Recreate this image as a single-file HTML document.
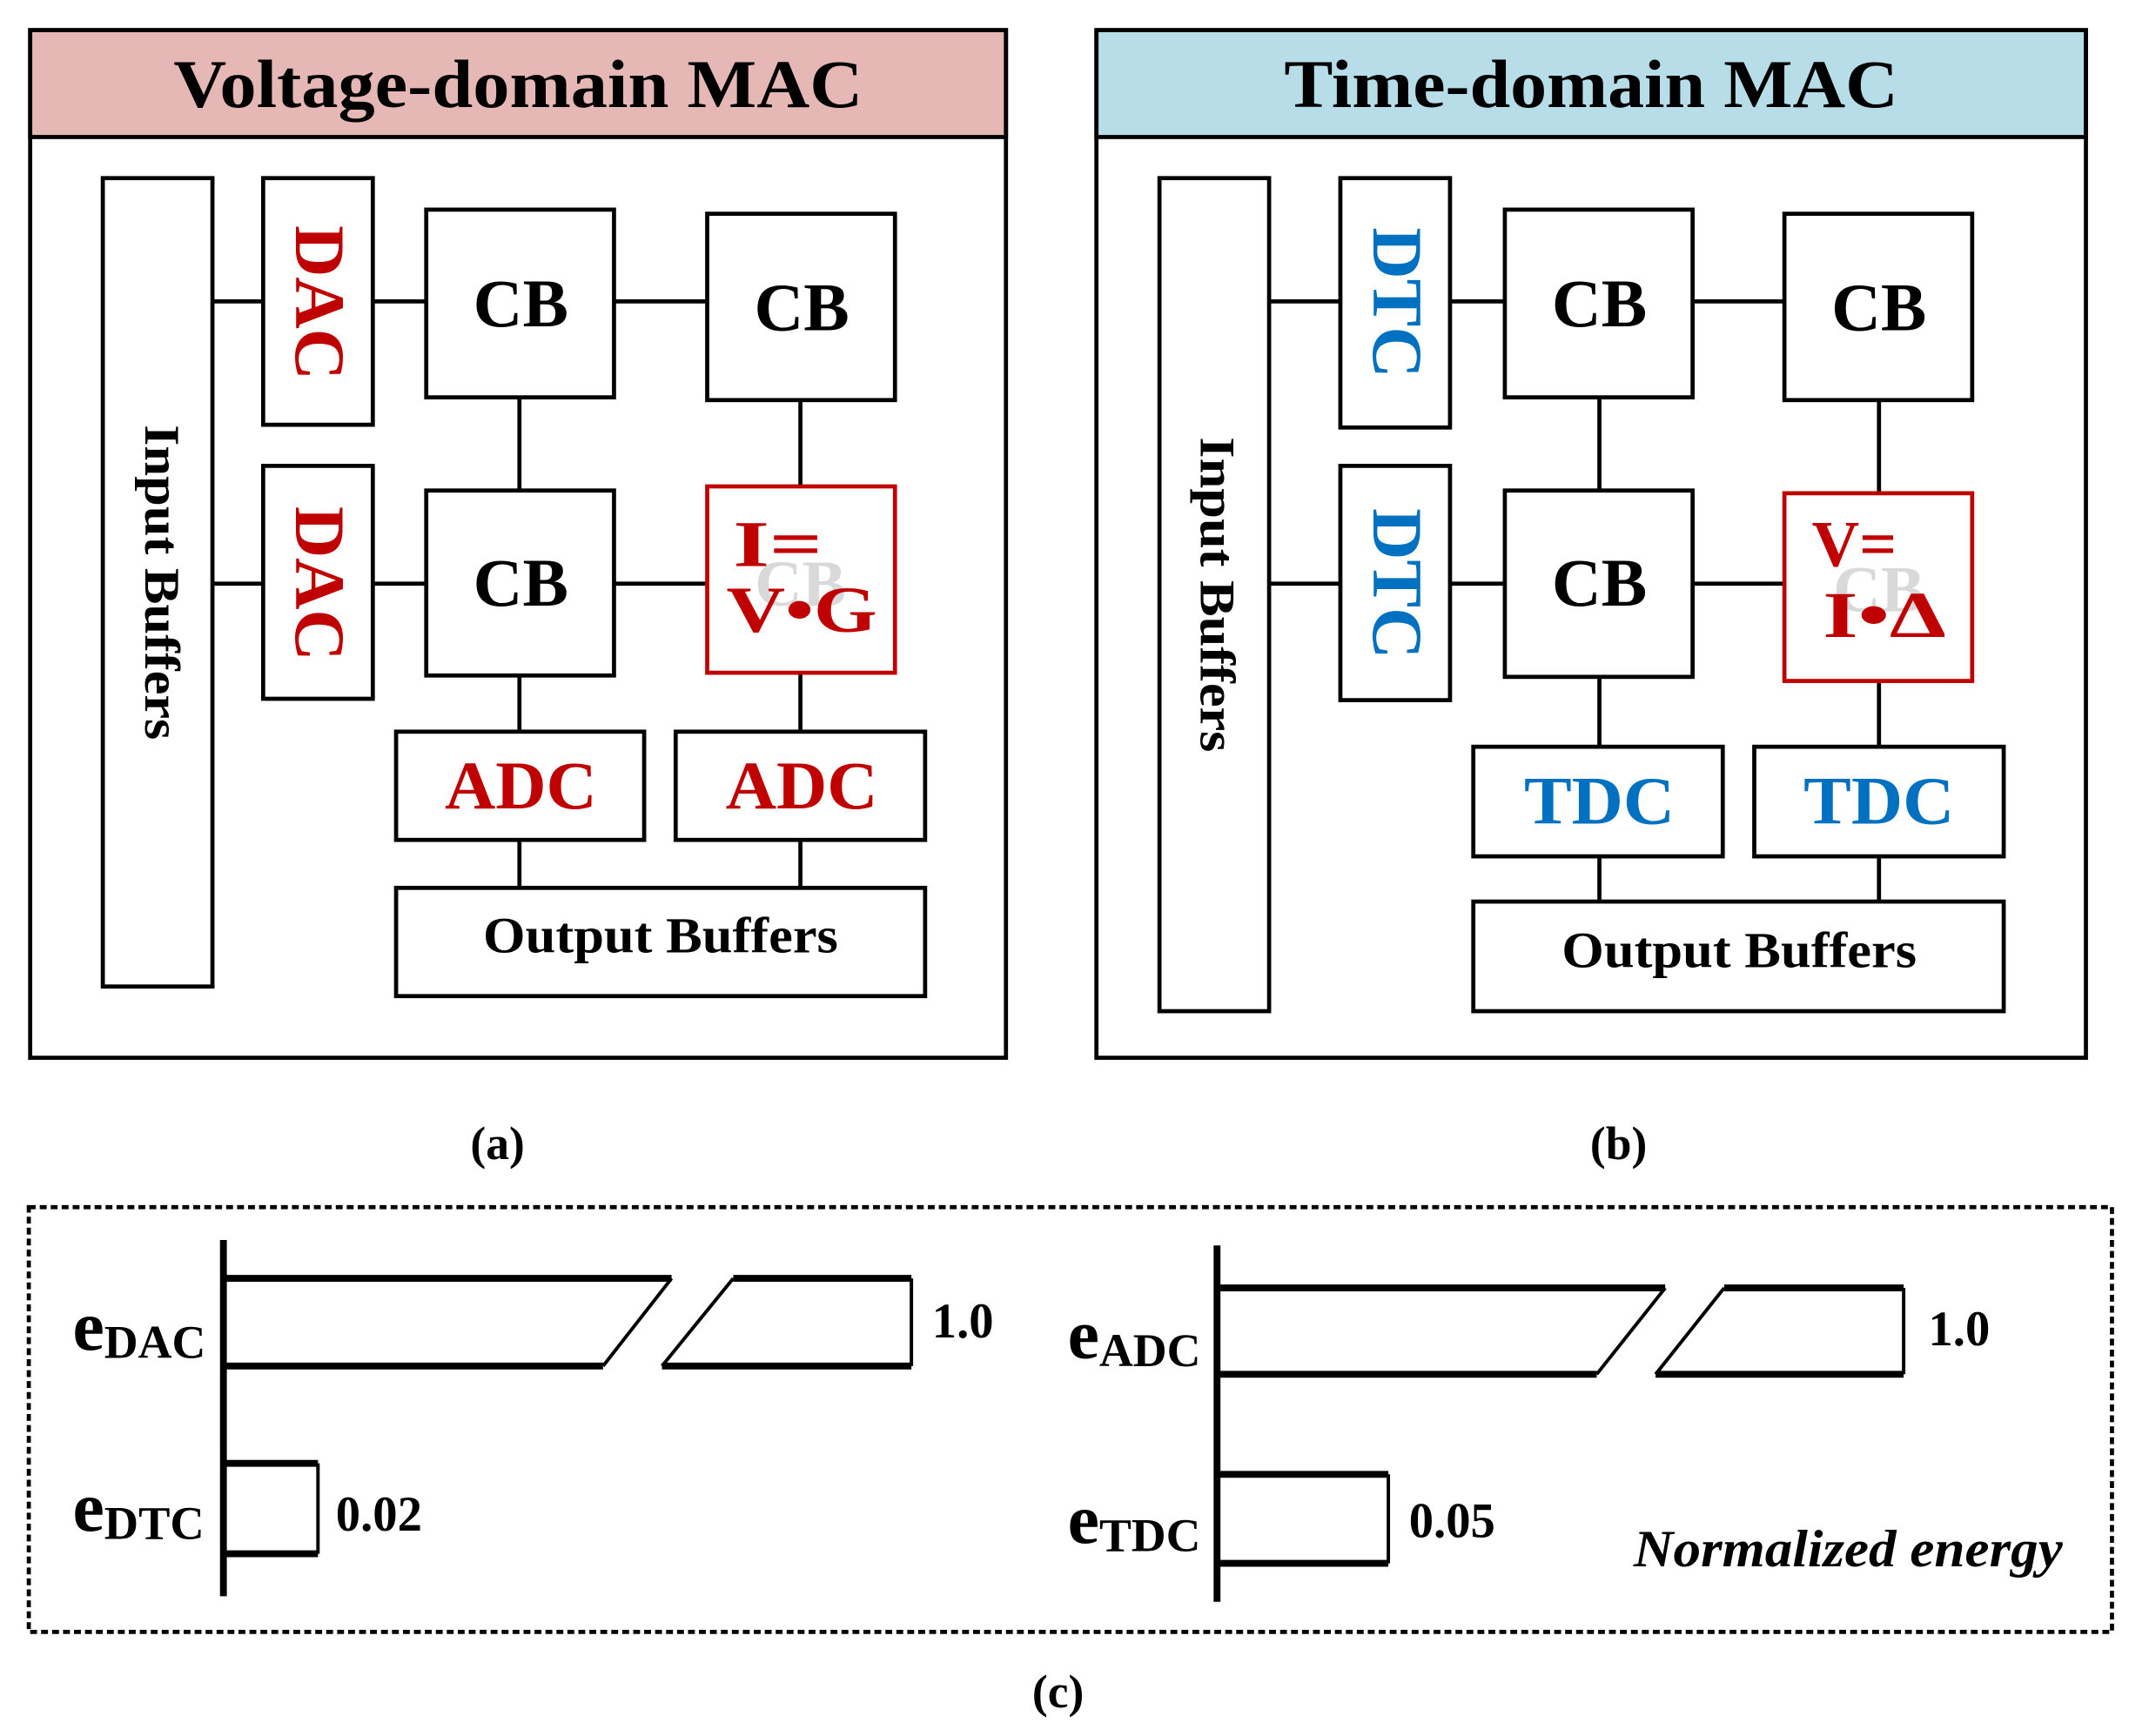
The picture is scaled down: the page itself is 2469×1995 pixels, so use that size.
<!DOCTYPE html>
<html><head><meta charset="utf-8"><style>html,body{margin:0;padding:0;background:#fff}svg{display:block}</style></head>
<body>
<svg xmlns="http://www.w3.org/2000/svg" width="2469" height="1995" viewBox="0 0 1568 1267" font-family="Liberation Serif, serif" font-weight="bold">
<rect width="1568" height="1267" fill="#fff"/>
<g stroke="#000" stroke-width="3" fill="none">
<rect x="22" y="22" width="712" height="78" fill="#e6b8b5"/>
<rect x="22" y="22" width="712" height="750"/>
<rect x="75" y="130" width="80" height="590"/>
<rect x="192" y="130" width="80" height="180"/>
<rect x="192" y="340" width="80" height="170"/>
<rect x="311" y="153" width="137" height="137"/>
<rect x="516" y="156" width="137" height="136"/>
<rect x="311" y="358" width="137" height="135"/>
<rect x="289" y="534" width="181" height="79"/>
<rect x="493" y="534" width="182" height="79"/>
<rect x="289" y="648" width="386" height="79"/>
<path d="M155 220H192M272 220H311M448 220H516M155 426H192M272 426H311M448 426H516M379 290V358M379 493V534M379 613V648M584 292V355M584 491V534M584 613V648"/>
<rect x="800" y="22" width="722" height="78" fill="#b7dde8"/>
<rect x="800" y="22" width="722" height="750"/>
<rect x="846" y="130" width="80" height="608"/>
<rect x="978" y="130" width="80" height="182"/>
<rect x="978" y="340" width="80" height="171"/>
<rect x="1098" y="153" width="137" height="137"/>
<rect x="1302" y="156" width="137" height="136"/>
<rect x="1098" y="358" width="137" height="136"/>
<rect x="1075" y="545" width="182" height="80"/>
<rect x="1280" y="545" width="182" height="80"/>
<rect x="1075" y="658" width="387" height="80"/>
<path d="M926 220H978M1058 220H1098M1235 220H1302M926 426H978M1058 426H1098M1235 426H1302M1167 290V358M1167 494V545M1167 625V658M1371 292V360M1371 497V545M1371 625V658"/>
</g>
<rect x="516" y="355" width="137" height="136" fill="#fff" stroke="#c00000" stroke-width="3"/>
<rect x="1302" y="360" width="137" height="137" fill="#fff" stroke="#c00000" stroke-width="3"/>
<g text-anchor="middle">
<text x="378" y="78" font-size="50" textLength="503" lengthAdjust="spacingAndGlyphs">Voltage-domain MAC</text>
<text x="1161" y="78" font-size="50" textLength="448" lengthAdjust="spacingAndGlyphs">Time-domain MAC</text>
<text x="380" y="238" font-size="50">CB</text>
<text x="585" y="241" font-size="50">CB</text>
<text x="380" y="442" font-size="50">CB</text>
<text x="1167" y="238" font-size="50">CB</text>
<text x="1371" y="241" font-size="50">CB</text>
<text x="1167" y="442" font-size="50">CB</text>
<text x="584" y="442" font-size="48" fill="#d9d9d9">CB</text>
<text x="1371" y="446" font-size="48" fill="#d9d9d9">CB</text>
<text x="380" y="590" font-size="50" fill="#c00000" textLength="111" lengthAdjust="spacingAndGlyphs">ADC</text>
<text x="585" y="590" font-size="50" fill="#c00000" textLength="111" lengthAdjust="spacingAndGlyphs">ADC</text>
<text x="1167" y="601" font-size="50" fill="#0070c0" textLength="110" lengthAdjust="spacingAndGlyphs">TDC</text>
<text x="1371" y="601" font-size="50" fill="#0070c0" textLength="110" lengthAdjust="spacingAndGlyphs">TDC</text>
<text x="482" y="695" font-size="37" textLength="259" lengthAdjust="spacingAndGlyphs">Output Buffers</text>
<text x="1269" y="706" font-size="37" textLength="259" lengthAdjust="spacingAndGlyphs">Output Buffers</text>
<text transform="translate(106,425) rotate(90)" font-size="36" textLength="230" lengthAdjust="spacingAndGlyphs">Input Buffers</text>
<text transform="translate(876,434) rotate(90)" font-size="36" textLength="230" lengthAdjust="spacingAndGlyphs">Input Buffers</text>
<text transform="translate(216,221) rotate(90)" font-size="52" fill="#c00000" textLength="113" lengthAdjust="spacingAndGlyphs">DAC</text>
<text transform="translate(216,426) rotate(90)" font-size="52" fill="#c00000" textLength="113" lengthAdjust="spacingAndGlyphs">DAC</text>
<text transform="translate(1002,221) rotate(90)" font-size="52" fill="#0070c0" textLength="110" lengthAdjust="spacingAndGlyphs">DTC</text>
<text transform="translate(1002,426) rotate(90)" font-size="52" fill="#0070c0" textLength="110" lengthAdjust="spacingAndGlyphs">DTC</text>
<text x="363" y="846" font-size="34">(a)</text>
<text x="1181" y="846" font-size="34">(b)</text>
<text x="772" y="1246" font-size="34">(c)</text>
</g>
<g fill="#c00000" font-size="48">
<text x="535" y="413" textLength="65" lengthAdjust="spacingAndGlyphs">I=</text>
<text x="530" y="461" textLength="110" lengthAdjust="spacingAndGlyphs">V•G</text>
<text x="1322" y="413" textLength="62" lengthAdjust="spacingAndGlyphs">V=</text>
<text x="1330" y="465" textLength="90" lengthAdjust="spacingAndGlyphs">I•Δ</text>
</g>
<rect x="21" y="881" width="1520" height="310" fill="none" stroke="#000" stroke-width="3" stroke-dasharray="5,3"/>
<g stroke="#000" fill="none">
<path d="M163 905V1165M888 909V1169" stroke-width="5"/>
<path d="M163 933H490M163 997H440M535 933H665M483 997H665M163 1068H232M163 1134H232M888 940H1215M888 1003H1165M1258 940H1389M1208 1003H1389M888 1076H1013M888 1141H1013" stroke-width="5"/>
<path d="M490 933L440 997M535 933L483 997M665 933V997M232 1068V1134M1215 940L1165 1003M1258 940L1208 1003M1389 940V1003M1013 1076V1141" stroke-width="2.5"/>
</g>
<g font-size="36">
<text x="53" y="985"><tspan font-size="52">e</tspan><tspan font-size="34" dy="6" textLength="74" lengthAdjust="spacingAndGlyphs">DAC</tspan></text>
<text x="53" y="1117"><tspan font-size="52">e</tspan><tspan font-size="34" dy="6" textLength="73" lengthAdjust="spacingAndGlyphs">DTC</tspan></text>
<text x="779" y="991"><tspan font-size="52">e</tspan><tspan font-size="34" dy="6" textLength="74" lengthAdjust="spacingAndGlyphs">ADC</tspan></text>
<text x="779" y="1126"><tspan font-size="52">e</tspan><tspan font-size="34" dy="6" textLength="74" lengthAdjust="spacingAndGlyphs">TDC</tspan></text>
<text x="680" y="976">1.0</text>
<text x="1407" y="982">1.0</text>
<text x="245" y="1117">0.02</text>
<text x="1028" y="1122">0.05</text>
<text x="1192" y="1143" font-size="38" font-style="italic" textLength="313" lengthAdjust="spacingAndGlyphs">Normalized energy</text>
</g>
</svg>
</body></html>
